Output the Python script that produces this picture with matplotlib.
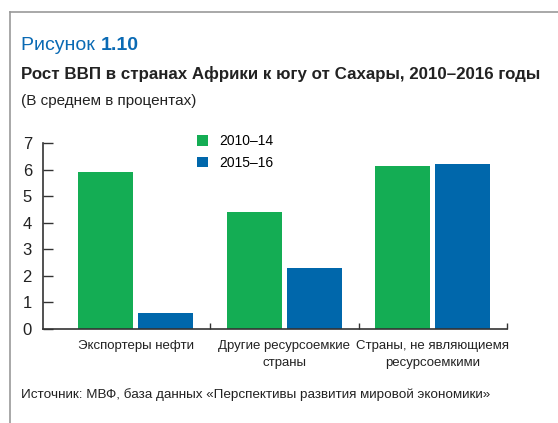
import matplotlib
matplotlib.use("Agg")
import matplotlib.pyplot as plt
import numpy as np
from matplotlib import font_manager

names = {f.name for f in font_manager.fontManager.ttflist}
narrow = "Liberation Sans Narrow" if "Liberation Sans Narrow" in names else "Liberation Sans"
plt.rcParams["font.family"] = [narrow, "DejaVu Sans"]

categories = ["Экспортеры нефти", "Другие ресурсоемкие\nстраны", "Страны, не являющиемя\nресурсоемкими"]
series_names = ["2010–14", "2015–16"]
vals_2010_14 = [5.9, 4.4, 6.15]
vals_2015_16 = [0.6, 2.3, 6.2]
y_ticks = [0, 1, 2, 3, 4, 5, 6, 7]

green = "#14ad54"
blue = "#0067ab"
title_blue = "#0a6ab4"

fig = plt.figure(figsize=(5.58, 4.23), dpi=100)
ax = fig.add_axes([0.0771, 0.2222, 0.8315, 0.4397])

x = np.arange(len(categories))
w = 0.37
gap = 0.035
ax.bar(x - (w + gap) / 2, vals_2010_14, width=w, color=green, label=series_names[0])
ax.bar(x + (w + gap) / 2, vals_2015_16, width=w, color=blue, label=series_names[1])

ax.set_xlim(-0.625, 2.5)
ax.set_ylim(0, 7)
ax.set_yticks(y_ticks)
ax.tick_params(axis="y", direction="in", length=7, width=1, color="#333333",
               labelsize=12, pad=8, labelcolor="#222222")
ax.set_xticks([0.5, 1.5, 2.5])
ax.set_xticklabels([])
ax.tick_params(axis="x", direction="in", length=4, width=1, color="#333333")
ax.set_xticks(x, minor=True)
ax.set_xticklabels(categories, minor=True, fontsize=9.5, color="#222222",
                   linespacing=1.5)
ax.tick_params(axis="x", which="minor", length=0, pad=8)
for s in ["top", "right"]:
    ax.spines[s].set_visible(False)
for s in ["left", "bottom"]:
    ax.spines[s].set_color("#333333")
    ax.spines[s].set_linewidth(1.2)

ax.legend(loc="upper left", bbox_to_anchor=(0.304, 1.115), frameon=False,
          fontsize=10, handlelength=0.8, handleheight=0.8, handletextpad=0.8,
          labelspacing=0.55)

# frame lines
fig.add_artist(plt.Line2D([10 / 558, 1], [1 - 12 / 423] * 2, color="#999999", lw=1.2))
fig.add_artist(plt.Line2D([10 / 558] * 2, [0, 1 - 12 / 423], color="#999999", lw=1.2))

t = fig.text(21 / 558, 1 - 46 / 423, "Рисунок ", fontsize=14, color=title_blue, va="center")
fig.canvas.draw()
bb = t.get_window_extent()
fig.text(bb.x1 / 558, 1 - 46 / 423, "1.10", fontsize=14, color=title_blue,
         fontweight="bold", va="center")
fig.text(21 / 558, 1 - 74 / 423, "Рост ВВП в странах Африки к югу от Сахары, 2010–2016 годы",
         fontsize=12.2, fontweight="bold", color="#222222", va="center")
fig.text(21 / 558, 1 - 101 / 423, "(В среднем в процентах)", fontsize=11,
         color="#222222", va="center")
fig.text(21 / 558, 1 - 395 / 423,
         "Источник: МВФ, база данных «Перспективы развития мировой экономики»",
         fontsize=9.7, color="#222222", va="center")

fig.savefig("out.png", dpi=100)
